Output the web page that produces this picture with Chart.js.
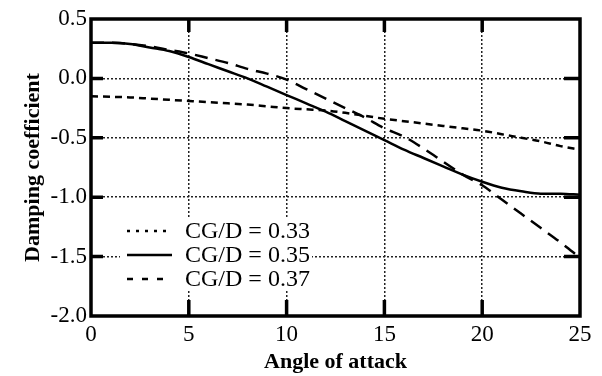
<!DOCTYPE html>
<html>
<head>
<meta charset="utf-8">
<script src="https://cdn.jsdelivr.net/npm/chart.js@4"></script>
<style>
  html, body { margin: 0; padding: 0; background: #fff; }
</style>
</head>
<body>
<canvas id="myChart" width="602" height="376"></canvas>
<script>
// Damping coefficient vs angle of attack for three CG positions
var angles = [0, 1, 2, 3, 4, 5, 6, 7, 8, 9, 10, 11, 12, 13, 14, 15, 16, 17, 18, 19, 20, 21, 22, 23, 24, 25];
var cg33 = [-0.15, -0.155, -0.16, -0.17, -0.18, -0.19, -0.20, -0.21, -0.22, -0.235, -0.25, -0.26, -0.27, -0.29, -0.315, -0.34, -0.36, -0.38, -0.40, -0.42, -0.44, -0.47, -0.50, -0.53, -0.57, -0.60];
var cg35 = [0.30, 0.30, 0.29, 0.26, 0.23, 0.18, 0.12, 0.06, 0.0, -0.07, -0.14, -0.21, -0.28, -0.36, -0.44, -0.52, -0.60, -0.67, -0.74, -0.81, -0.87, -0.92, -0.95, -0.97, -0.97, -0.98];
var cg37 = [0.30, 0.30, 0.29, 0.27, 0.24, 0.21, 0.17, 0.13, 0.08, 0.04, -0.01, -0.09, -0.17, -0.25, -0.33, -0.42, -0.49, -0.59, -0.70, -0.81, -0.90, -1.02, -1.14, -1.26, -1.38, -1.51];
var seriesLabels = ['CG/D = 0.33', 'CG/D = 0.35', 'CG/D = 0.37'];
var xTicks = [0, 5, 10, 15, 20, 25];
var yTicks = [0.5, 0.0, -0.5, -1.0, -1.5, -2.0];

var serif = '"Liberation Serif", "Times New Roman", serif';
// short samples in the key use their own dash rhythm
var keyDash = [[3, 6], [], [6, 9]];

function points(ys) {
    return angles.map(function (a, i) { return { x: a, y: ys[i] }; });
}

// heavy frame with inward tick marks, then the boxed key in the lower left
var overlay = {
    id: 'overlay',
    afterDraw: function (chart) {
        var c = chart.ctx;
        var xs = chart.scales.x, ys = chart.scales.y;
        var left = xs.getPixelForValue(xTicks[0]);
        var right = xs.getPixelForValue(xTicks[xTicks.length - 1]);
        var top = ys.getPixelForValue(yTicks[0]);
        var bottom = ys.getPixelForValue(yTicks[yTicks.length - 1]);
        c.save();
        c.setLineDash([]);
        c.strokeStyle = '#000';
        c.lineWidth = 3.5;
        c.beginPath();
        c.rect(left, top, right - left, bottom - top);
        xTicks.forEach(function (v) {
            var px = xs.getPixelForValue(v);
            c.moveTo(px, bottom); c.lineTo(px, bottom - 16);
            c.moveTo(px, top); c.lineTo(px, top + 13);
        });
        yTicks.forEach(function (v) {
            var py = ys.getPixelForValue(v);
            c.moveTo(left, py); c.lineTo(left + 12, py);
            c.moveTo(right, py); c.lineTo(right - 16, py);
        });
        c.stroke();

        c.fillStyle = '#fff';
        c.fillRect(120, 219, 192, 72);
        c.font = '24px ' + serif;
        c.textBaseline = 'middle';
        c.fillStyle = '#000';
        chart.data.datasets.forEach(function (ds, i) {
            var y = 231 + i * 24;
            c.lineWidth = 2.5;
            c.setLineDash(keyDash[i]);
            c.beginPath();
            c.moveTo(127, y);
            c.lineTo(172, y);
            c.stroke();
            c.setLineDash([]);
            c.fillText(ds.label, 185, y + 1);
        });
        c.restore();
    }
};

var ctx = document.getElementById('myChart').getContext('2d');
var myChart = new Chart(ctx, {
    type: 'line',
    data: {
        datasets: [
            {
                label: seriesLabels[0],
                data: points(cg33),
                borderColor: '#000',
                borderWidth: 2.5,
                borderDash: [7, 5]
            },
            {
                label: seriesLabels[1],
                data: points(cg35),
                borderColor: '#000',
                borderWidth: 2.5,
                borderDash: []
            },
            {
                label: seriesLabels[2],
                data: points(cg37),
                borderColor: '#000',
                borderWidth: 2.5,
                borderDash: [13, 8]
            }
        ]
    },
    options: {
        responsive: false,
        animation: false,
        cubicInterpolationMode: 'monotone',
        pointRadius: 0,
        layout: { padding: { left: 20, right: 22, top: 19, bottom: 0 } },
        plugins: {
            legend: { display: false },
            tooltip: { enabled: false }
        },
        scales: {
            x: {
                type: 'linear',
                min: 0,
                max: 25,
                afterBuildTicks: function (scale) {
                    scale.ticks = xTicks.map(function (v) { return { value: v }; });
                },
                afterFit: function (scale) { scale.height = 60; },
                grid: { color: '#222', lineWidth: 1.5, drawTicks: false },
                border: { display: false, dash: [2, 2] },
                ticks: {
                    color: '#000',
                    padding: 5,
                    maxRotation: 0,
                    font: { family: serif, size: 23 }
                },
                title: {
                    display: true,
                    text: 'Angle of attack',
                    color: '#000',
                    padding: 0,
                    font: { family: serif, size: 22, weight: 'bold' }
                }
            },
            y: {
                min: -2,
                max: 0.5,
                afterBuildTicks: function (scale) {
                    scale.ticks = yTicks.map(function (v) { return { value: v }; });
                },
                afterFit: function (scale) { scale.width = 71; },
                grid: { color: '#222', lineWidth: 1.5, drawTicks: false },
                border: { display: false, dash: [2, 2] },
                ticks: {
                    color: '#000',
                    padding: 4,
                    font: { family: serif, size: 23 },
                    callback: function (v) { return Number(v).toFixed(1); }
                },
                title: {
                    display: true,
                    text: 'Damping coefficient',
                    color: '#000',
                    padding: 0,
                    font: { family: serif, size: 22, weight: 'bold' }
                }
            }
        }
    },
    plugins: [overlay]
});
</script>
</body>
</html>
